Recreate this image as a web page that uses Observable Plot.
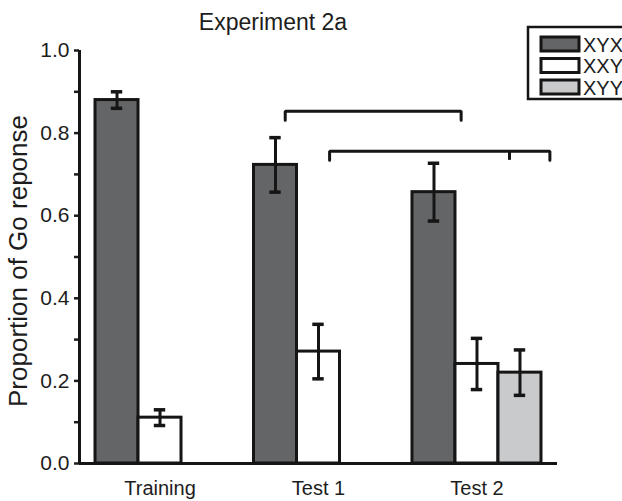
<!DOCTYPE html>
<html>
<head>
<meta charset="utf-8">
<script src="https://cdn.jsdelivr.net/npm/d3@7"></script>
<script src="https://cdn.jsdelivr.net/npm/@observablehq/plot@0.6"></script>
<style>
  body { margin: 0; background: #fff; }
  #chart svg { display: block; }
  g[aria-label^="y-axis"] line, g[aria-label^="y-axis"] path { stroke-width: 2.5px; }
  g[aria-label^="y-axis"] { font-size: 21px; }
  g[aria-label^="x-axis"] { font-size: 20px; }
</style>
</head>
<body>
<div id="chart"></div>
<script>
// Conditions on the x axis and the three stimulus types
const categories = ["Training", "Test 1", "Test 2"];
const series = ["XYX", "XXY", "XYY"];
const seriesFill = ["#646567", "#ffffff", "#c9cacc"];

// Mean proportion of Go responses and error (± SE) per condition
const xyxMean = [0.880, 0.723, 0.657];
const xyxErr  = [0.020, 0.066, 0.070];
const xxyMean = [0.111, 0.271, 0.241];
const xxyErr  = [0.019, 0.066, 0.062];
const xyyMean = [null, null, 0.220];
const xyyErr  = [null, null, 0.055];

// Y axis ticks (labels on every other one)
const yTicks = [0, 0.1, 0.2, 0.3, 0.4, 0.5, 0.6, 0.7, 0.8, 0.9, 1.0];

// Comparison brackets, x in category-index units
const bracketLevel = [0.853, 0.756];
const bracketStart = [0.79, 1.07];
const bracketEnd   = [1.90, 2.46];
const bracketMid   = [null, 2.205];
const bracketDrop  = 0.022;

// Layout in category units: each category holds three bar slots
const barW = 0.2713;
const capHalf = 0.036;
const xDomain = [-0.508, 2.508];

const means = [xyxMean, xxyMean, xyyMean];
const errs = [xyxErr, xxyErr, xyyErr];
const rows = [];
categories.forEach((c, i) => {
  series.forEach((s, k) => {
    const m = means[k][i];
    if (m == null) return;
    rows.push({
      category: c, series: s, mean: m, err: errs[k][i],
      x1: i + (k - 1.5) * barW, x2: i + (k - 0.5) * barW,
      xc: i + (k - 1) * barW, fill: seriesFill[k]
    });
  });
});

const bracketPts = [];
bracketLevel.forEach((y, b) => {
  bracketPts.push({id: b, x: bracketStart[b], y: y - bracketDrop});
  bracketPts.push({id: b, x: bracketStart[b], y: y});
  bracketPts.push({id: b, x: bracketEnd[b], y: y});
  bracketPts.push({id: b, x: bracketEnd[b], y: y - bracketDrop});
});
const midTicks = bracketMid.map((x, b) => ({x, y: bracketLevel[b]})).filter(d => d.x != null);

const ink = "#151515";

const plot = Plot.plot({
  width: 622,
  height: 501,
  marginLeft: 79,
  marginRight: 65,
  marginTop: 50,
  marginBottom: 38,
  style: {fontFamily: "'Liberation Sans', Arial, sans-serif", fontSize: "20px", color: "#1d1d1d", background: "white"},
  color: {type: "identity"},
  x: {domain: xDomain, ticks: [0, 1, 2], tickFormat: i => categories[i], tickSize: 0, tickPadding: 17, label: null},
  y: {domain: [0, 1], ticks: yTicks, tickSize: 5, tickPadding: 5, label: null,
      tickFormat: d => Math.round(d * 10) % 2 ? "" : d3.format(".1f")(d)},
  marks: [
    Plot.rectY(rows, {x1: "x1", x2: "x2", y1: 0, y2: "mean", fill: "fill", stroke: ink, strokeWidth: 3}),
    Plot.ruleX(rows, {x: "xc", y1: d => d.mean - d.err, y2: d => d.mean + d.err, stroke: ink, strokeWidth: 3}),
    Plot.ruleY(rows, {y: d => d.mean + d.err, x1: d => d.xc - capHalf, x2: d => d.xc + capHalf, stroke: ink, strokeWidth: 3.5}),
    Plot.ruleY(rows, {y: d => d.mean - d.err, x1: d => d.xc - capHalf, x2: d => d.xc + capHalf, stroke: ink, strokeWidth: 3.5}),
    Plot.line(bracketPts, {x: "x", y: "y", z: "id", stroke: ink, strokeWidth: 3, strokeLinejoin: "miter"}),
    Plot.ruleX(midTicks, {x: "x", y1: d => d.y - bracketDrop, y2: "y", stroke: ink, strokeWidth: 3}),
    Plot.ruleY([0], {stroke: ink, strokeWidth: 3}),
    Plot.ruleX([xDomain[0]], {stroke: ink, strokeWidth: 3})
  ]
});

document.getElementById("chart").appendChild(plot);

// Title, y-axis title and legend
const svg = d3.select(plot);
svg.append("text")
  .attr("x", 273).attr("y", 30)
  .attr("text-anchor", "middle")
  .style("font-size", "23px").attr("fill", "#1d1d1d")
  .text("Experiment 2a");

svg.append("text")
  .attr("transform", "translate(27,261) rotate(-90)")
  .attr("text-anchor", "middle")
  .style("font-size", "26px").attr("fill", "#1d1d1d")
  .text("Proportion of Go reponse");

const legend = svg.append("g").attr("text-anchor", "start");
legend.append("rect")
  .attr("x", 528).attr("y", 27).attr("width", 120).attr("height", 72)
  .attr("fill", "white").attr("stroke", ink).attr("stroke-width", 2.5);
series.forEach((s, k) => {
  legend.append("rect")
    .attr("x", 541).attr("y", 37 + k * 21.5).attr("width", 38).attr("height", 14)
    .attr("fill", seriesFill[k]).attr("stroke", ink).attr("stroke-width", 3);
  legend.append("text")
    .attr("x", 583).attr("y", 51.5 + k * 21.5)
    .attr("text-anchor", "start")
    .style("font-size", "20px").attr("fill", "#1d1d1d")
    .text(s);
});
</script>
</body>
</html>
